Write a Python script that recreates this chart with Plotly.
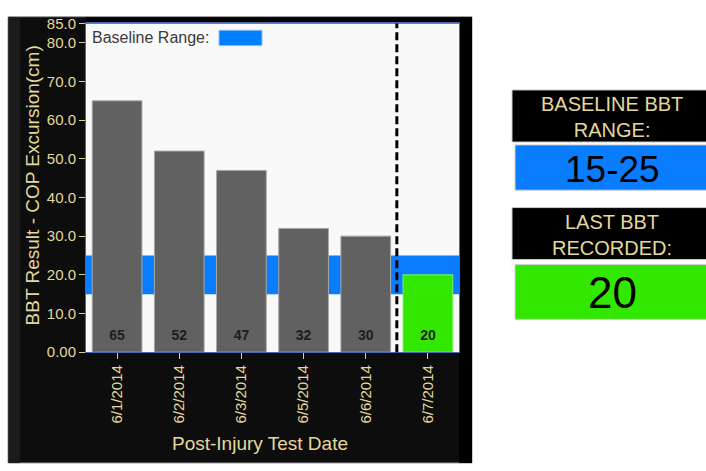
import plotly.graph_objects as go

# ---- data ----
test_dates = ["6/1/2014", "6/2/2014", "6/3/2014", "6/5/2014", "6/6/2014", "6/7/2014"]
bbt_values = [65, 52, 47, 32, 30, 20]
baseline_low = 15
baseline_high = 25
y_tick_vals = [0, 10, 20, 30, 40, 50, 60, 70, 80, 85]
y_tick_text = ["0.00", "10.0", "20.0", "30.0", "40.0", "50.0", "60.0", "70.0", "80.0", "85.0"]
baseline_label = "15-25"
last_label = "20"

W, H = 706, 471
FONT = "Liberation Sans, Arial, sans-serif"
TAN = "#e4d89c"
GRAY = "#616161"
GREEN = "#33e800"
BLUE = "#0a7dff"

def px(x):
    return x / W

def py(y):
    return 1 - y / H

bar_colors = [GRAY] * (len(bbt_values) - 1) + [GREEN]
bar_lines = ["#a8a8a8"] * (len(bbt_values) - 1) + ["#7ef060"]

fig = go.Figure()
fig.add_trace(go.Bar(
    x=test_dates, y=bbt_values,
    marker=dict(color=bar_colors, line=dict(color=bar_lines, width=1)),
    width=0.8, showlegend=False, hoverinfo="x+y",
))
fig.add_trace(go.Scatter(
    x=test_dates, y=[4] * len(test_dates), mode="text",
    text=[str(v) for v in bbt_values],
    textfont=dict(family=FONT, size=14, color="#1e1e1e", weight="bold"),
    showlegend=False, hoverinfo="skip",
))

shapes = [
    # dark panel
    dict(type="rect", xref="paper", yref="paper", x0=px(8), x1=px(472), y0=0, y1=py(8),
         fillcolor="#0d0d0d", line=dict(color="#9a9a9a", width=1), layer="below"),
    dict(type="rect", xref="paper", yref="paper", x0=px(8.5), x1=px(20), y0=0, y1=py(8.5),
         fillcolor="#1b1b1b", line=dict(width=0), layer="below"),
    dict(type="rect", xref="paper", yref="paper", x0=px(459), x1=px(472), y0=0, y1=py(8.5),
         fillcolor="#000000", line=dict(width=0), layer="below"),
    dict(type="rect", xref="paper", yref="paper", x0=px(86), x1=px(459), y0=py(15), y1=py(8.5),
         fillcolor="#000000", line=dict(width=0), layer="below"),
    # plot background
    dict(type="rect", xref="x domain", yref="y domain", x0=0, x1=1, y0=0, y1=1,
         fillcolor="#f9f9f9", line=dict(width=0), layer="below"),
    # baseline band
    dict(type="rect", xref="x domain", yref="y", x0=0, x1=1, y0=baseline_low, y1=baseline_high,
         fillcolor=BLUE, line=dict(width=0), layer="below"),
    # divider before the last test
    dict(type="line", xref="x", yref="y domain", x0=len(test_dates) - 1.5, x1=len(test_dates) - 1.5,
         y0=0, y1=1, line=dict(color="#000000", width=3, dash="8px,4px")),
    # legend swatch
    dict(type="rect", xref="paper", yref="paper", x0=px(219), x1=px(262), y0=py(38), y1=py(22),
         fillcolor="#0080ff", line=dict(color="#8fc0ff", width=1)),
    # right info boxes
    dict(type="rect", xref="paper", yref="paper", x0=px(512), x1=px(710), y0=py(138), y1=py(84),
         fillcolor="#000000", line=dict(color="#cccccc", width=1)),
    dict(type="rect", xref="paper", yref="paper", x0=px(515), x1=px(710), y0=py(188), y1=py(141),
         fillcolor=BLUE, line=dict(color="#d0d0d0", width=1)),
    dict(type="rect", xref="paper", yref="paper", x0=px(512), x1=px(710), y0=py(260), y1=py(206),
         fillcolor="#000000", line=dict(color="#cccccc", width=1)),
    dict(type="rect", xref="paper", yref="paper", x0=px(515), x1=px(710), y0=py(322), y1=py(265),
         fillcolor=GREEN, line=dict(color="#d0d0d0", width=1)),
]

annotations = [
    dict(text="Baseline Range:", xref="paper", yref="paper", x=px(90), y=py(30),
         xanchor="left", yanchor="middle", showarrow=False,
         font=dict(family=FONT, size=16, color="#3a3a3a")),
    dict(text="BBT Result - COP Excursion(cm)", xref="paper", yref="paper", x=px(32), y=py(183),
         xanchor="center", yanchor="middle", textangle=-90, showarrow=False,
         font=dict(family=FONT, size=19, color=TAN)),
    dict(text="Post-Injury Test Date", xref="paper", yref="paper", x=px(260), y=py(451),
         xanchor="center", yanchor="middle", showarrow=False,
         font=dict(family=FONT, size=19, color=TAN)),
    dict(text="BASELINE BBT<br>RANGE:", xref="paper", yref="paper", x=px(612), y=py(112),
         xanchor="center", yanchor="middle", showarrow=False,
         font=dict(family=FONT, size=20, color=TAN)),
    dict(text=baseline_label, xref="paper", yref="paper", x=px(612), y=py(166),
         xanchor="center", yanchor="middle", showarrow=False,
         font=dict(family=FONT, size=37, color="#000000")),
    dict(text="LAST BBT<br>RECORDED:", xref="paper", yref="paper", x=px(612), y=py(234),
         xanchor="center", yanchor="middle", showarrow=False,
         font=dict(family=FONT, size=20, color=TAN)),
    dict(text=last_label, xref="paper", yref="paper", x=px(612), y=py(294),
         xanchor="center", yanchor="middle", showarrow=False,
         font=dict(family=FONT, size=44, color="#000000")),
]

fig.update_layout(
    width=W, height=H,
    margin=dict(l=0, r=0, t=0, b=0),
    paper_bgcolor="#ffffff",
    plot_bgcolor="#f9f9f9",
    bargap=0.2,
    shapes=shapes,
    annotations=annotations,
    xaxis=dict(
        domain=[px(86), px(459)],
        type="category",
        tickangle=-90,
        ticks="outside", ticklen=6, tickcolor="#d8d0a8", tickwidth=1,
        tickfont=dict(family=FONT, size=15, color=TAN),
        showline=True, linecolor="#4a68b0", linewidth=1, mirror=True,
        showgrid=False, zeroline=False,
    ),
    yaxis=dict(
        domain=[py(356), py(15)],
        range=[0, 85],
        tickvals=y_tick_vals, ticktext=y_tick_text,
        ticks="outside", ticklen=6, tickcolor="#d8d0a8", tickwidth=1,
        tickfont=dict(family=FONT, size=15, color=TAN),
        showline=True, linecolor="#4a68b0", linewidth=1, mirror=True,
        showgrid=False, zeroline=False,
    ),
)

fit_page = (
    "document.documentElement.style.margin='0';"
    "document.body.style.margin='0';"
    "document.body.style.overflow='hidden';"
    "var d=document.getElementById('{plot_id}');"
    "d.style.position='absolute';d.style.left='0px';d.style.top='0px';"
)

fig.write_html("out.html", post_script=fit_page, config={"displayModeBar": False})
